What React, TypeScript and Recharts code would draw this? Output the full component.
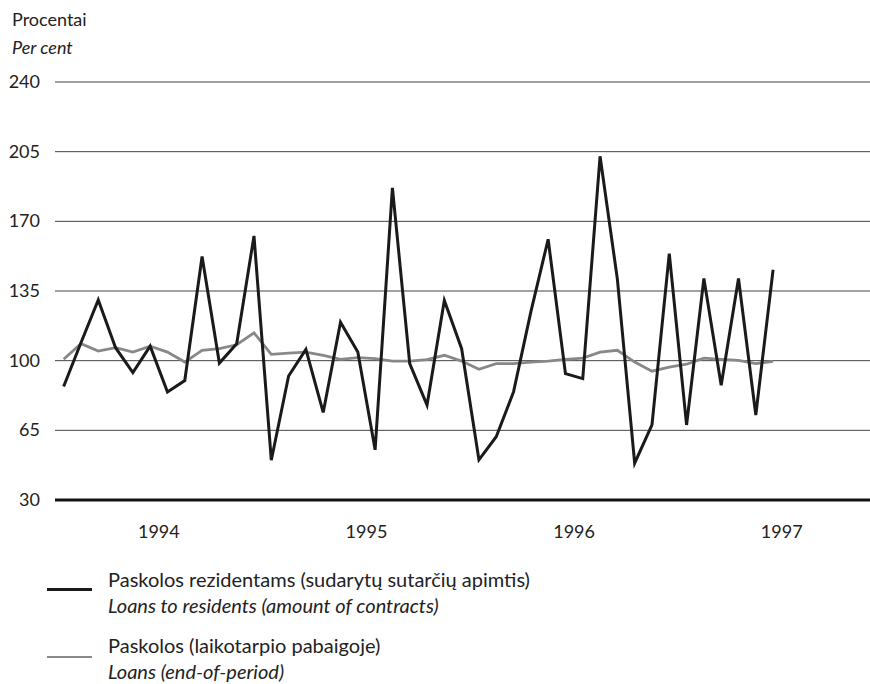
import React from 'react'
import { LineChart, Line, XAxis, YAxis, CartesianGrid, ReferenceLine } from 'recharts'

// monthly values, Jan 1994 .. Jun 1997 (per cent)
const loansContracts = [
  87, 109, 130.5, 106.5, 94, 107.3, 84.3, 90, 152.3, 98.8, 108.5, 162.7,
  50, 92.3, 105.7, 74, 119.3, 104.3, 55.2, 186.8, 98.5, 77.7, 130.2, 106,
  50.2, 61.8, 84.3, 124.5, 161, 93.5, 91, 202.7, 141, 48.5, 67.7, 153.8,
  67.7, 141.3, 87.7, 141.3, 72.7, 145.7,
]
const loansEndPeriod = [
  100.7, 108.5, 104.8, 106.5, 104.3, 107.3, 104.3, 99.3, 105.2, 106, 108, 114,
  103.2, 103.8, 104.3, 102.7, 100.7, 101.5, 101, 99.8, 99.8, 100.5, 102.7, 99.8,
  95.7, 98.5, 98.5, 99.3, 99.8, 100.7, 101.3, 104.3, 105.2, 99.3, 94.7, 96.8,
  98.2, 101.3, 100.7, 100.2, 98.5, 99.7,
]
const yTicks = [30, 65, 100, 135, 170, 205, 240]
const yearTicks = [5.5, 17.5, 29.5, 41.5]
const yearLabels = ['1994', '1995', '1996', '1997']

const FONT = 'Lato, "Open Sans", sans-serif'

const data = loansContracts.map((v, i) => ({ m: i, contracts: v, endPeriod: loansEndPeriod[i] }))

const YTick = ({ y, payload }: any) => (
  <text x={40} y={y} dy={6} textAnchor="end" fontSize={18} fill="#222" fontFamily={FONT}>
    {payload.value}
  </text>
)

const XTick = ({ x, y, payload }: any) => {
  const idx = yearTicks.indexOf(payload.value)
  return (
    <text x={x} y={y} dy={30} textAnchor="middle" fontSize={18} fill="#222" fontFamily={FONT}>
      {yearLabels[idx]}
    </text>
  )
}

const LegendBox = () => (
  <div style={{ fontFamily: FONT, fontSize: 20, color: '#222', lineHeight: '26px' }}>
    <div style={{ display: 'flex', alignItems: 'flex-start', marginBottom: 14 }}>
      <span style={{ width: 45, height: 3, background: '#1a1a1a', marginLeft: 47, marginTop: 22, marginRight: 16 }} />
      <div>
        <div>Paskolos rezidentams (sudarytų sutarčių apimtis)</div>
        <div style={{ fontStyle: 'italic' }}>Loans to residents (amount of contracts)</div>
      </div>
    </div>
    <div style={{ display: 'flex', alignItems: 'flex-start' }}>
      <span style={{ width: 45, height: 2, background: '#8a8a8a', marginLeft: 47, marginTop: 24, marginRight: 16 }} />
      <div>
        <div>Paskolos (laikotarpio pabaigoje)</div>
        <div style={{ fontStyle: 'italic' }}>Loans (end-of-period)</div>
      </div>
    </div>
  </div>
)

export default function App() {
  return (
    <div style={{ position: 'absolute', left: 0, top: 0, width: 870, height: 684, background: '#fff' }}>
      <div style={{ position: 'absolute', left: 12, top: 5, fontFamily: FONT, fontSize: 18, color: '#222', lineHeight: '28px' }}>
        <div>Procentai</div>
        <div style={{ fontStyle: 'italic' }}>Per cent</div>
      </div>
      <LineChart width={870} height={684} data={data} margin={{ top: 82, right: 0, bottom: 144, left: 0 }}>
        <CartesianGrid horizontal vertical={false} stroke="#444" strokeWidth={1} />
        <XAxis
          dataKey="m"
          type="number"
          domain={[-0.5, 46.6]}
          ticks={yearTicks}
          tick={<XTick />}
          axisLine={false}
          tickLine={false}
          height={40}
        />
        <YAxis
          domain={[30, 240]}
          ticks={yTicks}
          tick={<YTick />}
          axisLine={false}
          tickLine={false}
          width={55}
        />
        <ReferenceLine y={30} stroke="#111" strokeWidth={3} />
        <Line
          type="linear"
          dataKey="endPeriod"
          stroke="#888"
          strokeWidth={2.8}
          dot={false}
          isAnimationActive={false}
        />
        <Line
          type="linear"
          dataKey="contracts"
          stroke="#1a1a1a"
          strokeWidth={3}
          dot={false}
          isAnimationActive={false}
        />
      </LineChart>
      <div style={{ position: 'absolute', left: 0, top: 566, width: 870 }}>
        <LegendBox />
      </div>
    </div>
  )
}
